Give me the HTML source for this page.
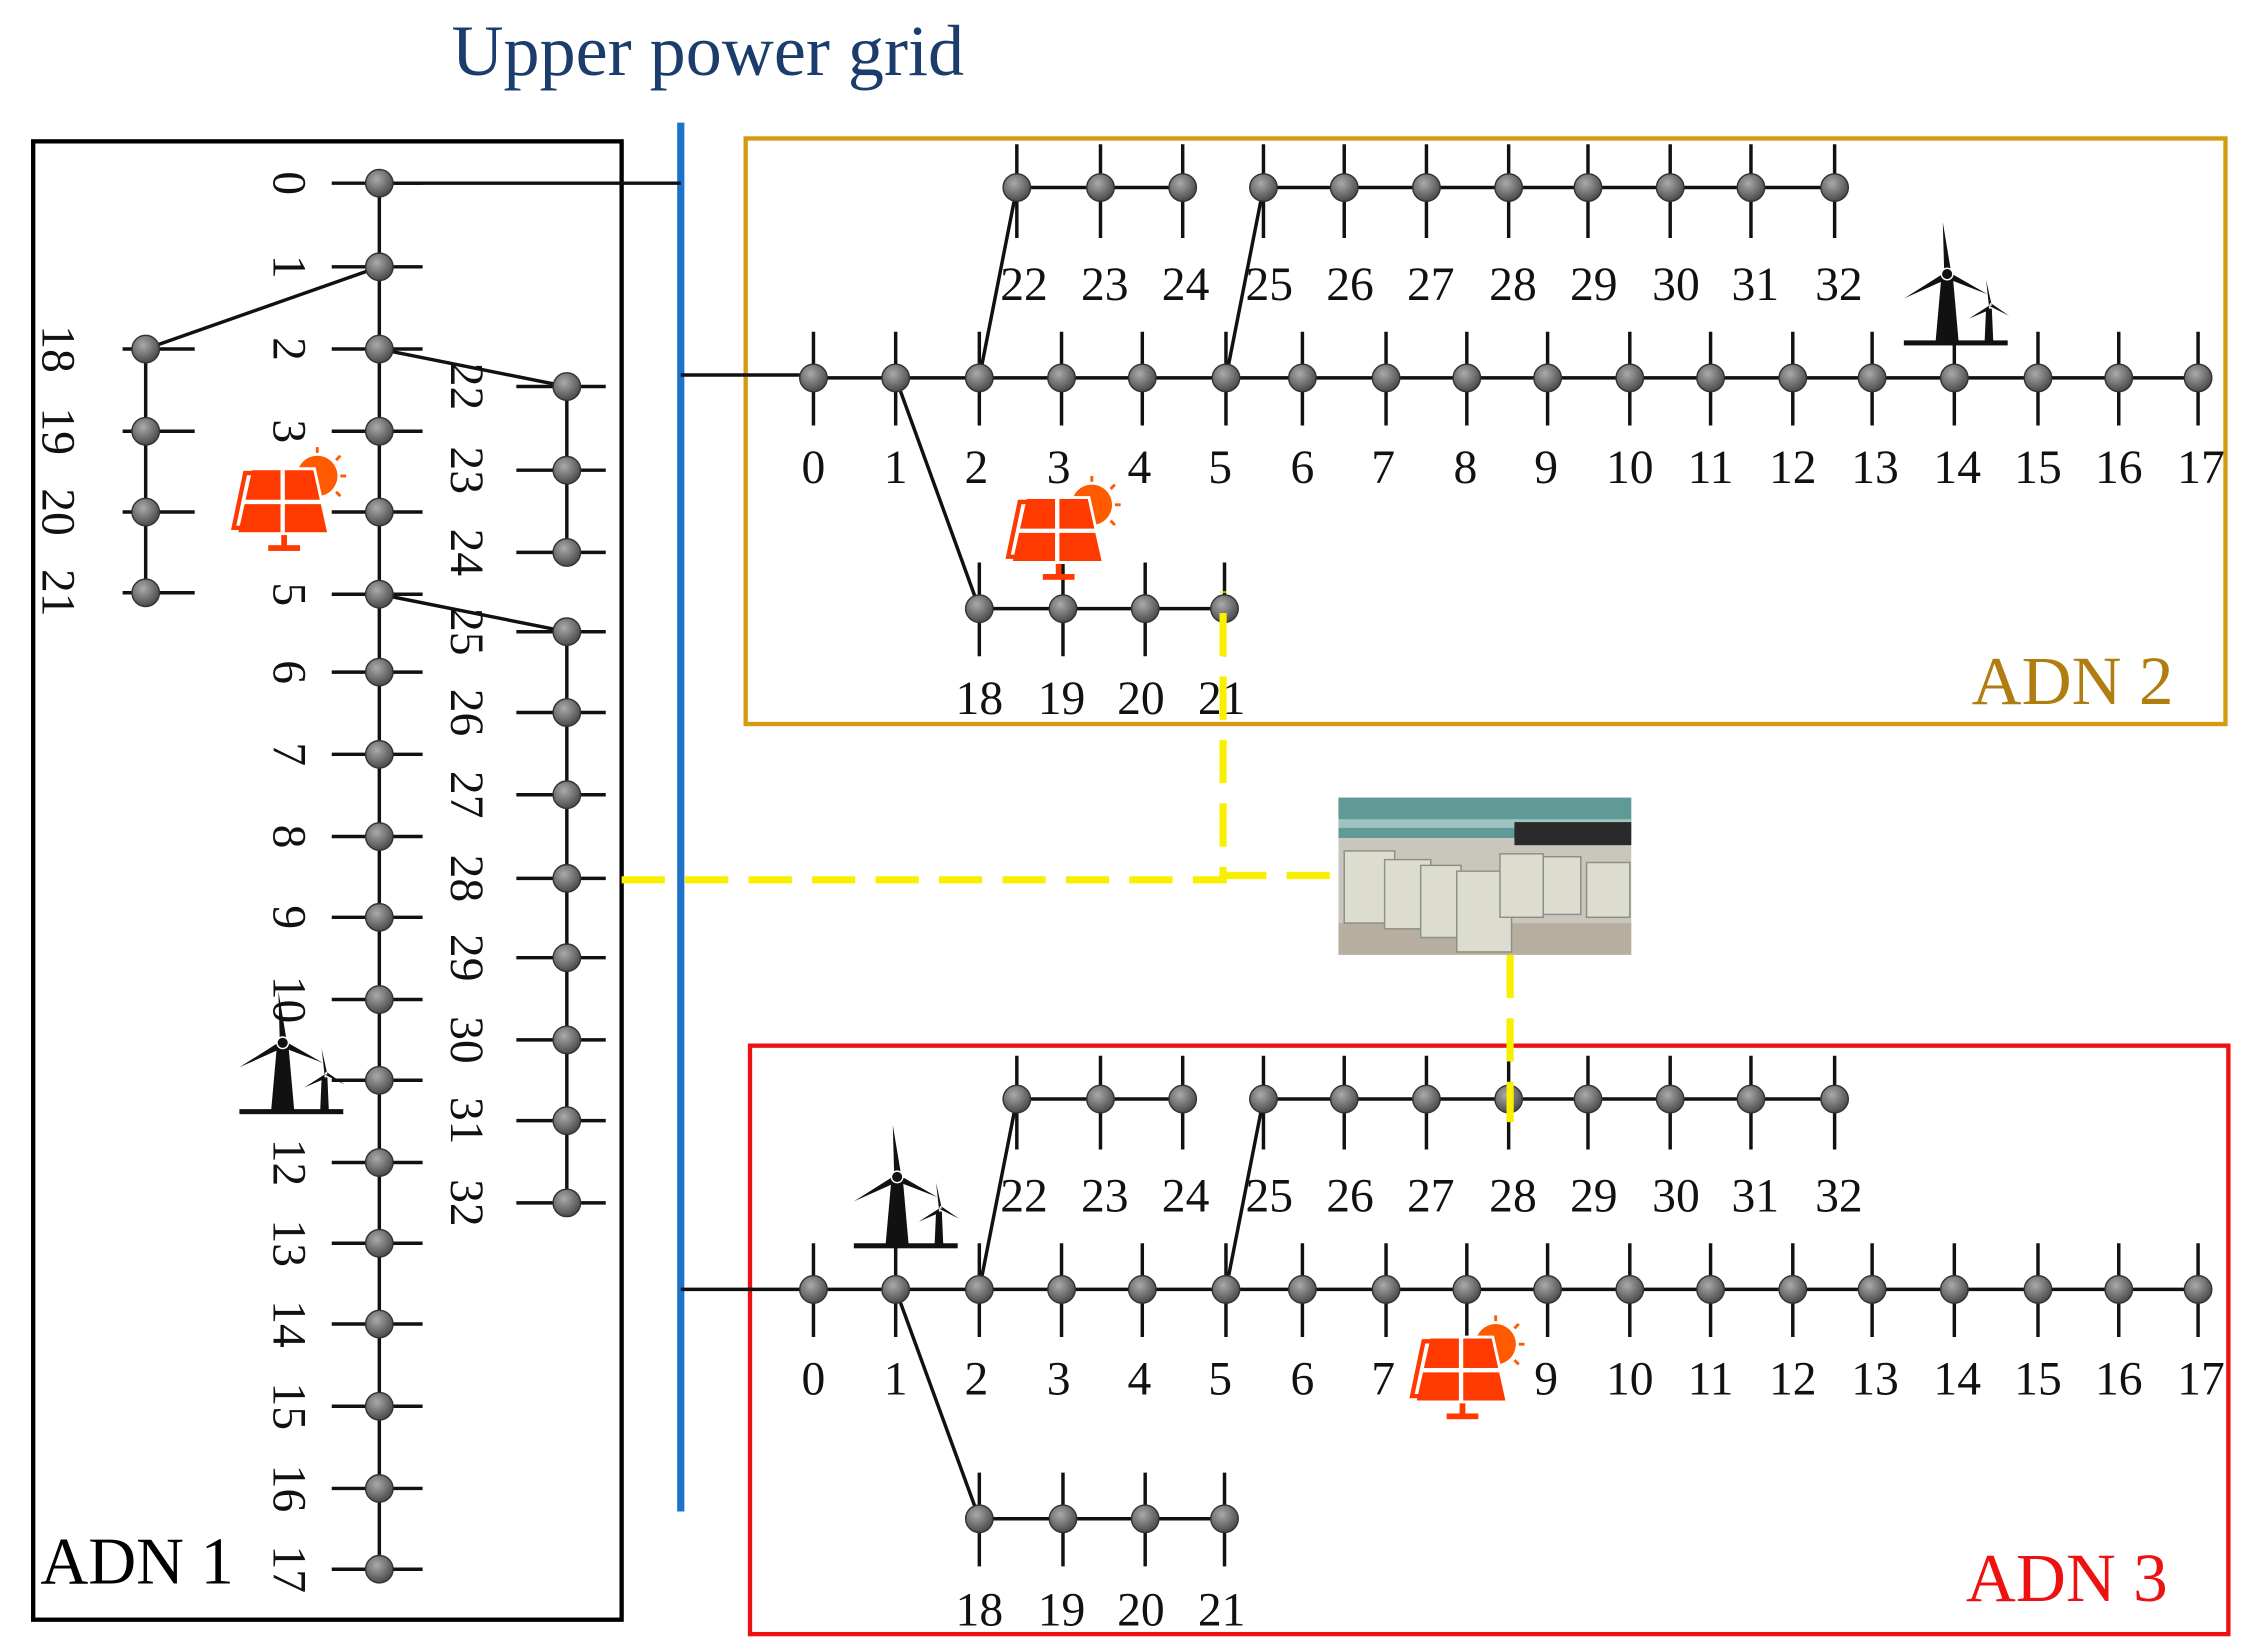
<!DOCTYPE html>
<html><head><meta charset="utf-8"><style>
html,body{margin:0;padding:0;background:#fff}
svg{display:block}
text{font-family:"Liberation Serif",serif;fill:#111}
.n{font-size:33px;text-anchor:middle}
.r{font-size:33px;text-anchor:middle;dominant-baseline:central}
</style></head><body>
<svg width="2250" height="1651" viewBox="0 0 1560 1144.7" preserveAspectRatio="none" xmlns="http://www.w3.org/2000/svg">
<defs>
<radialGradient id="g" cx="40%" cy="35%" r="70%"><stop offset="0" stop-color="#aaa"/><stop offset="1" stop-color="#444"/></radialGradient>
<g id="nd"><circle r="9.5" fill="url(#g)" stroke="#333" stroke-width="1"/></g>
<g id="pv">
<circle cx="22" cy="-20" r="14" fill="#ff5a00"/>
<g stroke="#ff5a00" stroke-width="2"><line x1="22" y1="-40" x2="22" y2="-36"/><line x1="38" y1="-34" x2="35" y2="-31"/><line x1="42" y1="-20" x2="38" y2="-20"/><line x1="38" y1="-6" x2="35" y2="-9"/></g>
<path d="M-24 -25 H20 L30 20 H-34 Z" fill="#ff3a00" stroke="#fff" stroke-width="2"/>
<path d="M-28 -22 H18 L26 16 H-36 Z" fill="none" stroke="#ff3a00" stroke-width="3"/>
<path d="M-2 -24 V19 M-30 -2 H28" stroke="#fff" stroke-width="3"/>
<rect x="-3" y="21" width="4" height="8" fill="#ff3a00"/><rect x="-12" y="28" width="22" height="4" fill="#ff3a00"/>
</g>
<g id="wt">
<path d="M-4 -10 L-8 35 H8 L4 -10 Z" fill="#111"/>
<path d="M-2 -12 L-3 -48 L3 -12 Z M0 -14 L-30 5 L-1 -8 Z M0 -14 L28 2 L2 -8 Z" fill="#111"/>
<circle cx="0" cy="-12" r="4" fill="#111" stroke="#fff"/>
<path d="M27 12 L26 35 H32 L31 12 Z" fill="#111"/>
<path d="M29 10 L27 -8 L31 10 Z M29 10 L15 19 L29 13 Z M29 10 L43 17 L30 8 Z" fill="#111"/>
<rect x="-30" y="34" width="72" height="3.5" fill="#111"/>
</g>
</defs>

<text x="313" y="52" style="font-size:50px;fill:#1b3d6d">Upper power grid</text>

<rect x="23" y="98" width="408" height="1025" fill="none" stroke="#000" stroke-width="3"/>
<rect x="517" y="96" width="1026" height="406" fill="none" stroke="#d49a10" stroke-width="3"/>
<rect x="520" y="725" width="1025" height="408" fill="none" stroke="#ee1111" stroke-width="3"/>
<line x1="472" y1="85" x2="472" y2="1048" stroke="#1f72cc" stroke-width="5"/>

<g stroke="#111" stroke-width="2.4" fill="none">
<path d="M263 127 H472"/>
<path d="M263 127 V1088 M101 242 V411 M393 268 V383 M393 438 V834 M263 185 L101 242 M263 242 L393 268 M263 412 L393 438"/>
<path d="M230 127H293M230 185H293M230 242H293M230 299H293M230 355H293M230 412H293M230 466H293M230 523H293M230 580H293M230 636H293M230 693H293M230 749H293M230 806H293M230 862H293M230 918H293M230 975H293M230 1032H293M230 1088H293"/>
<path d="M85 242H135M85 299H135M85 355H135M85 411H135"/>
<path d="M358 268H420M358 326H420M358 383H420M358 438H420M358 494H420M358 551H420M358 609H420M358 664H420M358 721H420M358 777H420M358 834H420"/>
<path d="M472 260 H564 M564 262 H1524 M705 130 H820 M876 130 H1272 M679 422 H849 M679 262 L705 130 M850 262 L876 130 M621 262 L679 422"/>
<path d="M564 230V295M621 230V295M679 230V295M736 230V295M792 230V295M850 230V295M903 230V295M961 230V295M1017 230V295M1073 230V295M1130 230V295M1186 230V295M1243 230V295M1298 230V295M1355 230V295M1413 230V295M1469 230V295M1524 230V295"/>
<path d="M705 100V165M763 100V165M820 100V165M876 100V165M932 100V165M989 100V165M1046 100V165M1101 100V165M1158 100V165M1214 100V165M1272 100V165"/>
<path d="M679 390V455M737 390V455M794 390V455M849 390V455"/>
<path d="M472 894 H564 M564 894 H1524 M705 762 H820 M876 762 H1272 M679 1053 H849 M679 894 L705 762 M850 894 L876 762 M621 894 L679 1053"/>
<path d="M564 862V927M621 862V927M679 862V927M736 862V927M792 862V927M850 862V927M903 862V927M961 862V927M1017 862V927M1073 862V927M1130 862V927M1186 862V927M1243 862V927M1298 862V927M1355 862V927M1413 862V927M1469 862V927M1524 862V927"/>
<path d="M705 732V797M763 732V797M820 732V797M876 732V797M932 732V797M989 732V797M1046 732V797M1101 732V797M1158 732V797M1214 732V797M1272 732V797"/>
<path d="M679 1021V1086M737 1021V1086M794 1021V1086M849 1021V1086"/>
</g>

<g>
<use href="#nd" x="263" y="127"/><use href="#nd" x="263" y="185"/><use href="#nd" x="263" y="242"/><use href="#nd" x="263" y="299"/><use href="#nd" x="263" y="355"/><use href="#nd" x="263" y="412"/><use href="#nd" x="263" y="466"/><use href="#nd" x="263" y="523"/><use href="#nd" x="263" y="580"/><use href="#nd" x="263" y="636"/><use href="#nd" x="263" y="693"/><use href="#nd" x="263" y="749"/><use href="#nd" x="263" y="806"/><use href="#nd" x="263" y="862"/><use href="#nd" x="263" y="918"/><use href="#nd" x="263" y="975"/><use href="#nd" x="263" y="1032"/><use href="#nd" x="263" y="1088"/>
<use href="#nd" x="101" y="242"/><use href="#nd" x="101" y="299"/><use href="#nd" x="101" y="355"/><use href="#nd" x="101" y="411"/>
<use href="#nd" x="393" y="268"/><use href="#nd" x="393" y="326"/><use href="#nd" x="393" y="383"/><use href="#nd" x="393" y="438"/><use href="#nd" x="393" y="494"/><use href="#nd" x="393" y="551"/><use href="#nd" x="393" y="609"/><use href="#nd" x="393" y="664"/><use href="#nd" x="393" y="721"/><use href="#nd" x="393" y="777"/><use href="#nd" x="393" y="834"/>
</g>
<g>
<use href="#nd" x="564" y="262"/><use href="#nd" x="621" y="262"/><use href="#nd" x="679" y="262"/><use href="#nd" x="736" y="262"/><use href="#nd" x="792" y="262"/><use href="#nd" x="850" y="262"/><use href="#nd" x="903" y="262"/><use href="#nd" x="961" y="262"/><use href="#nd" x="1017" y="262"/><use href="#nd" x="1073" y="262"/><use href="#nd" x="1130" y="262"/><use href="#nd" x="1186" y="262"/><use href="#nd" x="1243" y="262"/><use href="#nd" x="1298" y="262"/><use href="#nd" x="1355" y="262"/><use href="#nd" x="1413" y="262"/><use href="#nd" x="1469" y="262"/><use href="#nd" x="1524" y="262"/>
<use href="#nd" x="705" y="130"/><use href="#nd" x="763" y="130"/><use href="#nd" x="820" y="130"/><use href="#nd" x="876" y="130"/><use href="#nd" x="932" y="130"/><use href="#nd" x="989" y="130"/><use href="#nd" x="1046" y="130"/><use href="#nd" x="1101" y="130"/><use href="#nd" x="1158" y="130"/><use href="#nd" x="1214" y="130"/><use href="#nd" x="1272" y="130"/>
<use href="#nd" x="679" y="422"/><use href="#nd" x="737" y="422"/><use href="#nd" x="794" y="422"/><use href="#nd" x="849" y="422"/>
</g>
<g>
<use href="#nd" x="564" y="894"/><use href="#nd" x="621" y="894"/><use href="#nd" x="679" y="894"/><use href="#nd" x="736" y="894"/><use href="#nd" x="792" y="894"/><use href="#nd" x="850" y="894"/><use href="#nd" x="903" y="894"/><use href="#nd" x="961" y="894"/><use href="#nd" x="1017" y="894"/><use href="#nd" x="1073" y="894"/><use href="#nd" x="1130" y="894"/><use href="#nd" x="1186" y="894"/><use href="#nd" x="1243" y="894"/><use href="#nd" x="1298" y="894"/><use href="#nd" x="1355" y="894"/><use href="#nd" x="1413" y="894"/><use href="#nd" x="1469" y="894"/><use href="#nd" x="1524" y="894"/>
<use href="#nd" x="705" y="762"/><use href="#nd" x="763" y="762"/><use href="#nd" x="820" y="762"/><use href="#nd" x="876" y="762"/><use href="#nd" x="932" y="762"/><use href="#nd" x="989" y="762"/><use href="#nd" x="1046" y="762"/><use href="#nd" x="1101" y="762"/><use href="#nd" x="1158" y="762"/><use href="#nd" x="1214" y="762"/><use href="#nd" x="1272" y="762"/>
<use href="#nd" x="679" y="1053"/><use href="#nd" x="737" y="1053"/><use href="#nd" x="794" y="1053"/><use href="#nd" x="849" y="1053"/>
</g>

<g>
<text class="r" transform="translate(200,127) rotate(90)">0</text>
<text class="r" transform="translate(200,185) rotate(90)">1</text>
<text class="r" transform="translate(200,242) rotate(90)">2</text>
<text class="r" transform="translate(200,299) rotate(90)">3</text>
<text class="r" transform="translate(200,412) rotate(90)">5</text>
<text class="r" transform="translate(200,466) rotate(90)">6</text>
<text class="r" transform="translate(200,523) rotate(90)">7</text>
<text class="r" transform="translate(200,580) rotate(90)">8</text>
<text class="r" transform="translate(200,636) rotate(90)">9</text>
<text class="r" transform="translate(200,693) rotate(90)">10</text>
<text class="r" transform="translate(200,806) rotate(90)">12</text>
<text class="r" transform="translate(200,862) rotate(90)">13</text>
<text class="r" transform="translate(200,918) rotate(90)">14</text>
<text class="r" transform="translate(200,975) rotate(90)">15</text>
<text class="r" transform="translate(200,1032) rotate(90)">16</text>
<text class="r" transform="translate(200,1088) rotate(90)">17</text>
<text class="r" transform="translate(40,242) rotate(90)">18</text>
<text class="r" transform="translate(40,299) rotate(90)">19</text>
<text class="r" transform="translate(40,355) rotate(90)">20</text>
<text class="r" transform="translate(40,411) rotate(90)">21</text>
<text class="r" transform="translate(323,268) rotate(90)">22</text>
<text class="r" transform="translate(323,326) rotate(90)">23</text>
<text class="r" transform="translate(323,383) rotate(90)">24</text>
<text class="r" transform="translate(323,438) rotate(90)">25</text>
<text class="r" transform="translate(323,494) rotate(90)">26</text>
<text class="r" transform="translate(323,551) rotate(90)">27</text>
<text class="r" transform="translate(323,609) rotate(90)">28</text>
<text class="r" transform="translate(323,664) rotate(90)">29</text>
<text class="r" transform="translate(323,721) rotate(90)">30</text>
<text class="r" transform="translate(323,777) rotate(90)">31</text>
<text class="r" transform="translate(323,834) rotate(90)">32</text>
</g>

<g>
<text class="n" x="564" y="335">0</text><text class="n" x="621" y="335">1</text><text class="n" x="677" y="335">2</text><text class="n" x="734" y="335">3</text><text class="n" x="790" y="335">4</text><text class="n" x="846" y="335">5</text><text class="n" x="903" y="335">6</text><text class="n" x="959" y="335">7</text><text class="n" x="1016" y="335">8</text><text class="n" x="1072" y="335">9</text><text class="n" x="1130" y="335">10</text><text class="n" x="1186" y="335">11</text><text class="n" x="1243" y="335">12</text><text class="n" x="1300" y="335">13</text><text class="n" x="1357" y="335">14</text><text class="n" x="1413" y="335">15</text><text class="n" x="1469" y="335">16</text><text class="n" x="1526" y="335">17</text>
<text class="n" x="710" y="208">22</text><text class="n" x="766" y="208">23</text><text class="n" x="822" y="208">24</text><text class="n" x="880" y="208">25</text><text class="n" x="936" y="208">26</text><text class="n" x="992" y="208">27</text><text class="n" x="1049" y="208">28</text><text class="n" x="1105" y="208">29</text><text class="n" x="1162" y="208">30</text><text class="n" x="1217" y="208">31</text><text class="n" x="1275" y="208">32</text>
<text class="n" x="679" y="495">18</text><text class="n" x="736" y="495">19</text><text class="n" x="791" y="495">20</text><text class="n" x="847" y="495">21</text>
</g>
<g>
<text class="n" x="564" y="967">0</text><text class="n" x="621" y="967">1</text><text class="n" x="677" y="967">2</text><text class="n" x="734" y="967">3</text><text class="n" x="790" y="967">4</text><text class="n" x="846" y="967">5</text><text class="n" x="903" y="967">6</text><text class="n" x="959" y="967">7</text><text class="n" x="1072" y="967">9</text><text class="n" x="1130" y="967">10</text><text class="n" x="1186" y="967">11</text><text class="n" x="1243" y="967">12</text><text class="n" x="1300" y="967">13</text><text class="n" x="1357" y="967">14</text><text class="n" x="1413" y="967">15</text><text class="n" x="1469" y="967">16</text><text class="n" x="1526" y="967">17</text>
<text class="n" x="710" y="840">22</text><text class="n" x="766" y="840">23</text><text class="n" x="822" y="840">24</text><text class="n" x="880" y="840">25</text><text class="n" x="936" y="840">26</text><text class="n" x="992" y="840">27</text><text class="n" x="1049" y="840">28</text><text class="n" x="1105" y="840">29</text><text class="n" x="1162" y="840">30</text><text class="n" x="1217" y="840">31</text><text class="n" x="1275" y="840">32</text>
<text class="n" x="679" y="1127">18</text><text class="n" x="736" y="1127">19</text><text class="n" x="791" y="1127">20</text><text class="n" x="847" y="1127">21</text>
</g>

<text x="1367" y="488" style="font-size:48px;fill:#b07d10">ADN 2</text>
<text x="1363" y="1110" style="font-size:48px;fill:#ee1111">ADN 3</text>
<text x="28" y="1098" style="font-size:46px;fill:#000">ADN 1</text>

<use href="#pv" x="198" y="350"/>
<use href="#pv" x="735" y="370"/>
<use href="#pv" x="1015" y="952"/>
<use href="#wt" x="196" y="735"/>
<use href="#wt" x="1350" y="202"/>
<use href="#wt" x="622" y="828"/>

<g>
<rect x="928" y="553" width="203" height="109" fill="#c9c6bd"/>
<rect x="928" y="553" width="203" height="28" fill="#5f9a96"/>
<rect x="928" y="568" width="203" height="6" fill="#9fc3c0"/>
<rect x="1050" y="570" width="81" height="16" fill="#2a2a2a"/>
<rect x="928" y="640" width="203" height="22" fill="#b7aea0"/>
<g fill="#dcdccf" stroke="#8d8f84" stroke-width="1">
<rect x="932" y="590" width="35" height="50"/><rect x="960" y="596" width="32" height="48"/><rect x="985" y="600" width="28" height="50"/><rect x="1010" y="604" width="38" height="56"/><rect x="1040" y="592" width="30" height="44"/><rect x="1070" y="594" width="26" height="40"/><rect x="1100" y="598" width="30" height="38"/>
</g>
</g>

<g stroke="#f8f000" stroke-width="5" fill="none" stroke-dasharray="30 14">
<path d="M431 610 H848 V410"/>
<path d="M848 607 H928"/>
<path d="M1047 662 V778"/>
</g>
</svg>
</body></html>
